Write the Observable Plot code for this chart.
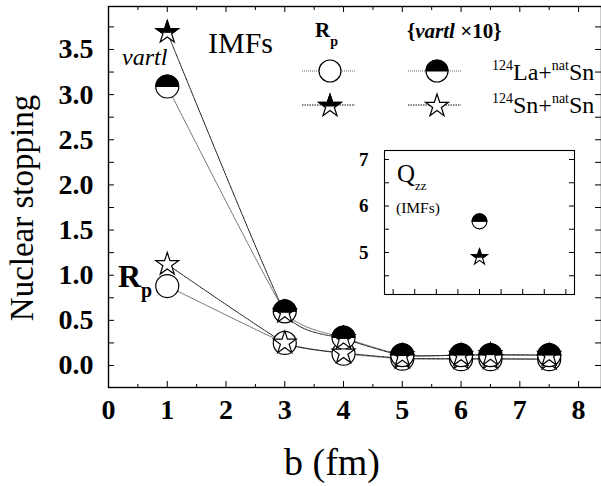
<!DOCTYPE html>
<html>
<head>
<meta charset="utf-8">
<script src="https://cdn.jsdelivr.net/npm/d3@7"></script>
<script src="https://cdn.jsdelivr.net/npm/@observablehq/plot@0.6"></script>
<style>
  body { margin: 0; background: white; }
  #wrap { position: relative; width: 601px; height: 486px; overflow: hidden; }
  #inset { position: absolute; left: 354px; top: 145px; }
</style>
</head>
<body>
<div id="wrap"><div id="main"></div><div id="inset"></div></div>
<script>
// ---------- data ----------
const b = [1, 3, 4, 5, 6, 6.5, 7.5];
const vartlLa = [3.09, 0.60, 0.31, 0.115, 0.115, 0.115, 0.115];
const vartlSn = [3.69, 0.59, 0.30, 0.11, 0.115, 0.12, 0.115];
const rpLa = [0.88, 0.25, 0.13, 0.075, 0.07, 0.07, 0.07];
const rpSn = [1.12, 0.25, 0.14, 0.08, 0.075, 0.075, 0.07];

const qzzX = [4, 4];
const qzzSeries = ["La", "Sn"];
const qzzValues = [5.67, 4.90];

const xTickLabels = [0, 1, 2, 3, 4, 5, 6, 7, 8];
const xMinorTicks = [0.5, 1.5, 2.5, 3.5, 4.5, 5.5, 6.5, 7.5];
const yTickLabels = [0, 0.5, 1, 1.5, 2, 2.5, 3, 3.5];
const yAllTicks = [0, 0.25, 0.5, 0.75, 1, 1.25, 1.5, 1.75, 2, 2.25, 2.5, 2.75, 3, 3.25, 3.5, 3.75];
const insetYLabels = [5, 6, 7];
const insetYTicks = [4.5, 5, 5.5, 6, 6.5, 7];
const insetXTicks = [0, 1, 2, 3, 4, 5, 6, 7, 8];

const FONT = "Liberation Serif, Times New Roman, serif";

// ---------- symbols ----------
function starPoints(R) {
  const pts = [], ri = R * 0.382;
  for (let k = 0; k < 10; k++) {
    const a = -Math.PI / 2 + k * Math.PI / 5;
    const rr = k % 2 ? ri : R;
    pts.push([rr * Math.cos(a), rr * Math.sin(a)]);
  }
  return pts;
}
function clipTop(pts) {
  const out = [];
  for (let i = 0; i < pts.length; i++) {
    const p = pts[i], q = pts[(i + 1) % pts.length];
    const pin = p[1] <= 0, qin = q[1] <= 0;
    if (pin) out.push(p);
    if (pin !== qin) {
      const t = p[1] / (p[1] - q[1]);
      out.push([p[0] + t * (q[0] - p[0]), 0]);
    }
  }
  return out;
}
function poly(ctx, pts) {
  ctx.moveTo(pts[0][0], pts[0][1]);
  for (let i = 1; i < pts.length; i++) ctx.lineTo(pts[i][0], pts[i][1]);
  ctx.closePath();
}
const starSym = { draw(ctx, size) { poly(ctx, starPoints(Math.sqrt(size / Math.PI))); } };
const halfStarSym = { draw(ctx, size) { poly(ctx, clipTop(starPoints(Math.sqrt(size / Math.PI)))); } };
const circleSym = { draw(ctx, size) { const R = Math.sqrt(size / Math.PI); ctx.moveTo(R, 0); ctx.arc(0, 0, R, 0, 2 * Math.PI); ctx.closePath(); } };
const halfCircleSym = { draw(ctx, size) { const R = Math.sqrt(size / Math.PI); ctx.moveTo(-R, 0); ctx.arc(0, 0, R, Math.PI, 2 * Math.PI); ctx.closePath(); } };

// ---------- tables ----------
const tbl = (ys) => b.map((x, i) => ({ b: x, v: ys[i] }));
const tVLa = tbl(vartlLa), tVSn = tbl(vartlSn), tRLa = tbl(rpLa), tRSn = tbl(rpSn);

const W = 601, H = 486, mL = 108, mR = 0, mT = 6, mB = 99;
const FW = W - mL - mR, FH = H - mT - mB;
const RC = 11.5, RS = 12;
const LINE = { x: "b", y: "v", curve: "cardinal", tension: 0.55, strokeWidth: 1 };

const main = Plot.plot({
  width: W, height: H,
  marginLeft: mL, marginRight: mR, marginTop: mT, marginBottom: mB,
  style: { fontFamily: FONT, background: "white", overflow: "visible" },
  x: { domain: [0, 8.39], axis: null },
  y: { domain: [-0.2437, 3.976], axis: null },
  marks: [
    // ticks (inward)
    Plot.tickY(yAllTicks, { y: d => d, insetRight: FW - 6, stroke: "black", strokeWidth: 1 }),
    Plot.tickY(yAllTicks, { y: d => d, insetLeft: FW - 6, stroke: "black", strokeWidth: 1 }),
    Plot.tickX(xTickLabels, { x: d => d, insetTop: FH - 6, stroke: "black", strokeWidth: 1 }),
    Plot.tickX(xMinorTicks, { x: d => d, insetTop: FH - 3, stroke: "black", strokeWidth: 1 }),
    Plot.tickX(xTickLabels, { x: d => d, insetBottom: FH - 6, stroke: "black", strokeWidth: 1 }),
    Plot.tickX(xMinorTicks, { x: d => d, insetBottom: FH - 4, stroke: "black", strokeWidth: 1 }),
    Plot.frame({ stroke: "black", strokeWidth: 1.4 }),
    Plot.axisX(xTickLabels, { tickSize: 0, tickPadding: 12, fontSize: 28, fontWeight: "bold", fontFamily: FONT, tickFormat: d3.format("d"), label: null }),
    Plot.axisY(yTickLabels, { tickSize: 0, tickPadding: 15, fontSize: 28, fontWeight: "bold", fontFamily: FONT, tickFormat: d3.format(".1f"), label: null }),
    // lines
    Plot.line(tRLa, { ...LINE, stroke: "#666", strokeDasharray: "1,1" }),
    Plot.line(tRSn, { ...LINE, stroke: "#111", strokeDasharray: "1.5,1" }),
    Plot.line(tVLa, { ...LINE, stroke: "#666", strokeDasharray: "1,1" }),
    Plot.line(tVSn, { ...LINE, stroke: "#111", strokeDasharray: "1.5,1" }),
    // Rp markers
    Plot.dot(tRLa, { x: "b", y: "v", symbol: circleSym, r: RC, fill: "white", stroke: "black", strokeWidth: 1.2 }),
    Plot.dot(tRSn, { x: "b", y: "v", symbol: starSym, r: RS, fill: "white", stroke: "black", strokeWidth: 1.2 }),
    // vartl markers
    Plot.dot(tVLa, { x: "b", y: "v", symbol: circleSym, r: RC, fill: "white", stroke: "black", strokeWidth: 1.2 }),
    Plot.dot(tVLa, { x: "b", y: "v", symbol: halfCircleSym, r: RC, fill: "black", stroke: "black", strokeWidth: 1 }),
    Plot.dot(tVSn, { x: "b", y: "v", symbol: starSym, r: RS, fill: "white", stroke: "black", strokeWidth: 1.2 }),
    Plot.dot(tVSn, { x: "b", y: "v", symbol: halfStarSym, r: RS, fill: "black", stroke: "black", strokeWidth: 1 })
  ]
});
document.getElementById("main").appendChild(main);

const svg = d3.select(main);
svg.selectAll('g[aria-label="x-axis tick label"], g[aria-label="y-axis tick label"]')
  .attr("font-weight", "bold").attr("font-family", FONT).style("font-family", FONT);

function rich(sel, x, y, parts, extra) {
  const t = sel.append("text").attr("x", x).attr("y", y)
    .attr("font-family", FONT).attr("fill", "black").attr("text-anchor", "start");
  if (extra) extra(t);
  let prev = 0;
  for (const p of parts) {
    const ts = t.append("tspan").text(p.t).attr("font-size", p.s);
    if (p.w) ts.attr("font-weight", p.w);
    if (p.i) ts.attr("font-style", "italic");
    const sh = p.sh || 0;
    if (sh - prev !== 0) ts.attr("dy", sh - prev);
    prev = sh;
  }
  return t;
}

// axis titles
rich(svg, 332, 475, [{ t: "b (fm)", s: 38 }], t => t.attr("text-anchor", "middle"));
rich(svg, 33, 208, [{ t: "Nuclear stopping", s: 33 }], t => t.attr("text-anchor", "middle").attr("transform", "rotate(-90,33,208)"));

// annotations
rich(svg, 208, 53, [{ t: "IMFs", s: 30 }]);
rich(svg, 122, 65, [{ t: "vartl", s: 24, i: true }]);
rich(svg, 118, 287, [{ t: "R", s: 32, w: "bold" }, { t: "p", s: 20, w: "bold", sh: 10 }]);

// legend
rich(svg, 315, 37, [{ t: "R", s: 21, w: "bold" }, { t: "p", s: 14, w: "bold", sh: 9 }]);
rich(svg, 407, 38, [{ t: "{", s: 21, w: "bold" }, { t: "vartl", s: 21, w: "bold", i: true }, { t: " \u00d710}", s: 21, w: "bold" }]);
rich(svg, 492, 80, [{ t: "124", s: 14, sh: -10 }, { t: "La+", s: 24 }, { t: "nat", s: 14, sh: -10 }, { t: "Sn", s: 24 }]);
rich(svg, 492, 113, [{ t: "124", s: 14, sh: -10 }, { t: "Sn+", s: 24 }, { t: "nat", s: 14, sh: -10 }, { t: "Sn", s: 24 }]);

const leg = svg.append("g");
function legLine(x1, x2, y, stroke, dash) {
  leg.append("line").attr("x1", x1).attr("x2", x2).attr("y1", y).attr("y2", y)
    .attr("stroke", stroke).attr("stroke-width", 1).attr("stroke-dasharray", dash);
}
function legSym(sym, x, y, r, fill, sw) {
  leg.append("path").attr("d", d3.symbol(sym, r * r * Math.PI)())
    .attr("transform", `translate(${x},${y})`).attr("fill", fill)
    .attr("stroke", "black").attr("stroke-width", sw);
}
legLine(302, 355, 71, "#666", "1,1");
legLine(408, 461, 71, "#666", "1,1");
legLine(302, 355, 105, "#111", "1.5,1");
legLine(408, 461, 105, "#111", "1.5,1");
legSym(circleSym, 330, 71, 11, "white", 1.2);
legSym(circleSym, 437, 71, 11, "white", 1.2);
legSym(halfCircleSym, 437, 71, 11, "black", 1);
legSym(starSym, 330, 106, 12, "white", 1.2);
legSym(halfStarSym, 330, 106, 12, "black", 1);
legSym(starSym, 437, 106, 12, "white", 1.2);

// ---------- inset ----------
const iL = 30, iR = 2, iT = 5, iB = 2, iW = 222, iH = 151;
const iFW = iW - iL - iR, iFH = iH - iT - iB;
const qTbl = qzzSeries.map((s, i) => ({ s, x: qzzX[i], v: qzzValues[i] }));
const qLa = qTbl.filter(d => d.s === "La"), qSn = qTbl.filter(d => d.s === "Sn");

const inset = Plot.plot({
  width: iW, height: iH,
  marginLeft: iL, marginRight: iR, marginTop: iT, marginBottom: iB,
  style: { fontFamily: FONT, background: "transparent", overflow: "visible" },
  x: { domain: [-0.4, 8.4], axis: null },
  y: { domain: [4.097, 7.194], axis: null },
  marks: [
    Plot.frame({ fill: "white", stroke: "black", strokeWidth: 1.1 }),
    Plot.tickY(insetYTicks, { y: d => d, insetRight: iFW - 5, stroke: "black" }),
    Plot.tickY(insetYTicks, { y: d => d, insetLeft: iFW - 5, stroke: "black" }),
    Plot.tickX(insetXTicks, { x: d => d, insetTop: iFH - 5, stroke: "black" }),
    Plot.axisY(insetYLabels, { tickSize: 0, tickPadding: 16, fontSize: 19, fontWeight: "bold", fontFamily: FONT, tickFormat: d3.format("d"), label: null }),
    Plot.dot(qLa, { x: "x", y: "v", symbol: circleSym, r: 7.5, fill: "white", stroke: "black", strokeWidth: 1.1 }),
    Plot.dot(qLa, { x: "x", y: "v", symbol: halfCircleSym, r: 7.5, fill: "black", stroke: "black", strokeWidth: 1 }),
    Plot.dot(qSn, { x: "x", y: "v", symbol: starSym, r: 8.5, fill: "white", stroke: "black", strokeWidth: 1.1 }),
    Plot.dot(qSn, { x: "x", y: "v", symbol: halfStarSym, r: 8.5, fill: "black", stroke: "black", strokeWidth: 1 })
  ]
});
document.getElementById("inset").appendChild(inset);
const isvg = d3.select(inset);
isvg.selectAll('g[aria-label="y-axis tick label"]').attr("font-weight", "bold").attr("font-family", FONT).style("font-family", FONT);
rich(isvg, 43, 37, [{ t: "Q", s: 25 }, { t: "zz", s: 13, sh: 8 }]);
rich(isvg, 42, 68, [{ t: "(IMFs)", s: 15.5 }]);
</script>
</body>
</html>
